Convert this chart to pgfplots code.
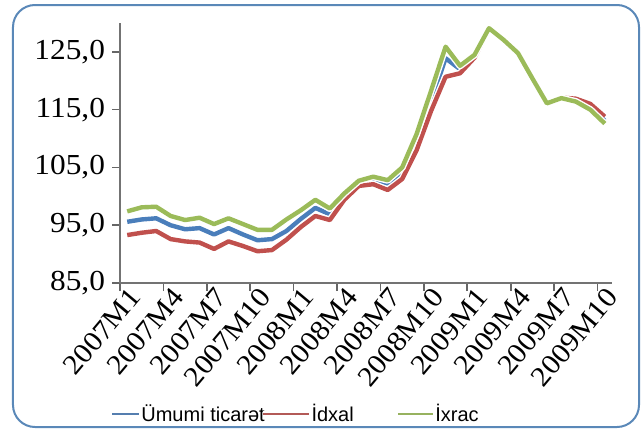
\documentclass[border=0pt]{standalone}
\usepackage{pgfplots}
\usepackage{pgfplotstable}
\pgfplotsset{compat=1.18}
\usepackage{fontspec}
\setmainfont{Liberation Serif}
\newfontfamily\tickfont[FakeStretch=1.08]{Liberation Serif}
\newfontfamily\legfont{Liberation Sans}

\definecolor{serBlue}{HTML}{4A7EBB}
\definecolor{serRed}{HTML}{C0504D}
\definecolor{serGreen}{HTML}{9BBB59}
\definecolor{frameBlue}{HTML}{5A88B8}

% month index (category centre), total trade, import, export
\pgfplotstableread{
x    blue   red    green
0.5  95.6   93.3   97.4
1.5  96.0   93.7   98.1
2.5  96.2   94.0   98.2
3.5  95.0   92.6   96.6
4.5  94.3   92.2   95.9
5.5  94.5   92.0   96.3
6.5  93.4   90.9   95.2
7.5  94.5   92.2   96.2
8.5  93.4   91.4   95.2
9.5  92.4   90.5   94.2
10.5 92.6   90.7   94.2
11.5 94.0   92.5   96.0
12.5 96.1   94.7   97.6
13.5 98.0   96.6   99.4
14.5 96.9   95.9   97.9
15.5 100.0  99.4   100.5
16.5 102.2  101.8  102.7
17.5 102.9  102.1  103.4
18.5 102.2  101.1  102.8
19.5 104.3  103.0  105.0
20.5 109.5  108.0  110.8
21.5 116.5  114.8  118.3
22.5 123.9  120.7  125.9
23.5 122.0  121.3  122.6
24.5 124.3  124.0  124.5
25.5 129.0  129.0  129.1
26.5 127.1  127.2  127.1
27.5 124.7  124.9  124.8
28.5 120.4  120.5  120.4
29.5 116.1  116.2  116.1
30.5 116.9  117.1  117.0
31.5 116.6  116.9  116.4
32.5 115.5  116.0  115.0
33.5 113.1  113.8  112.6
}\tradedata

\begin{document}
\begin{tikzpicture}
\useasboundingbox (-60pt,-73.5pt) rectangle (261pt,141.5pt);
\draw[frameBlue, line width=1pt, rounded corners=11pt] (-53.5pt,-72pt) rectangle (259.5pt,139pt);
\begin{axis}[
    scale only axis,
    width=246pt, height=130pt,
    xmin=0, xmax=34,
    ymin=85, ymax=130,
    axis x line*=bottom, axis y line*=left,
    axis line style={black!55, line width=1.2pt, -},
    tick style={black!60, line width=0.8pt},
    tick align=outside,
    major tick length=4pt,
    ytick={85,95,...,125},
    yticklabel style={font=\tickfont\fontsize{14.5}{16}\selectfont,
        /pgf/number format/fixed, /pgf/number format/fixed zerofill,
        /pgf/number format/precision=1, /pgf/number format/use comma},
    /pgf/number format/assume math mode=true,
    xtick={0,3,...,33},
    xticklabels={},
    extra x ticks={0.5,3.5,...,33.5},
    extra x tick labels={2007M1,2007M4,2007M7,2007M10,2008M1,2008M4,2008M7,2008M10,2009M1,2009M4,2009M7,2009M10},
    extra x tick style={major tick length=0pt,
        xticklabel style={rotate=50, anchor=north east, inner sep=1pt,
            font=\tickfont\fontsize{14}{15}\selectfont}},
    legend columns=3,
    legend style={draw=none, fill=none, inner sep=0pt,
        at={(axis description cs:-0.024,-0.505)}, anchor=west,
        font=\legfont\fontsize{10}{12}\selectfont,
        /tikz/every odd column/.append style={column sep=-2.7pt},
        /tikz/every even column/.append style={column sep=-4.5pt}},
]
\addplot[serBlue, line width=2.2pt, line join=round,
    preaction={draw=white, line width=3.6pt},
    legend image code/.code={\draw[serBlue!80!gray, line width=1pt] (0pt,0pt) -- (13.5pt,0pt);}]
    table[x=x, y=blue] {\tradedata};
\addlegendentry{Ümumi ticarət}
\addplot[serRed, line width=2.2pt, line join=round,
    preaction={draw=white, line width=3.6pt},
    legend image code/.code={\draw[serRed!80!gray, line width=1pt] (0pt,0pt) -- (23pt,0pt);}]
    table[x=x, y=red] {\tradedata};
\addlegendentry{\makebox[44pt][l]{İdxal}}
\addplot[serGreen, line width=2.2pt, line join=round,
    preaction={draw=white, line width=3.6pt},
    legend image code/.code={\draw[serGreen!85!gray, line width=1pt] (0pt,0pt) -- (17.5pt,0pt);}]
    table[x=x, y=green] {\tradedata};
\addlegendentry{İxrac}
\end{axis}
\end{tikzpicture}
\end{document}
